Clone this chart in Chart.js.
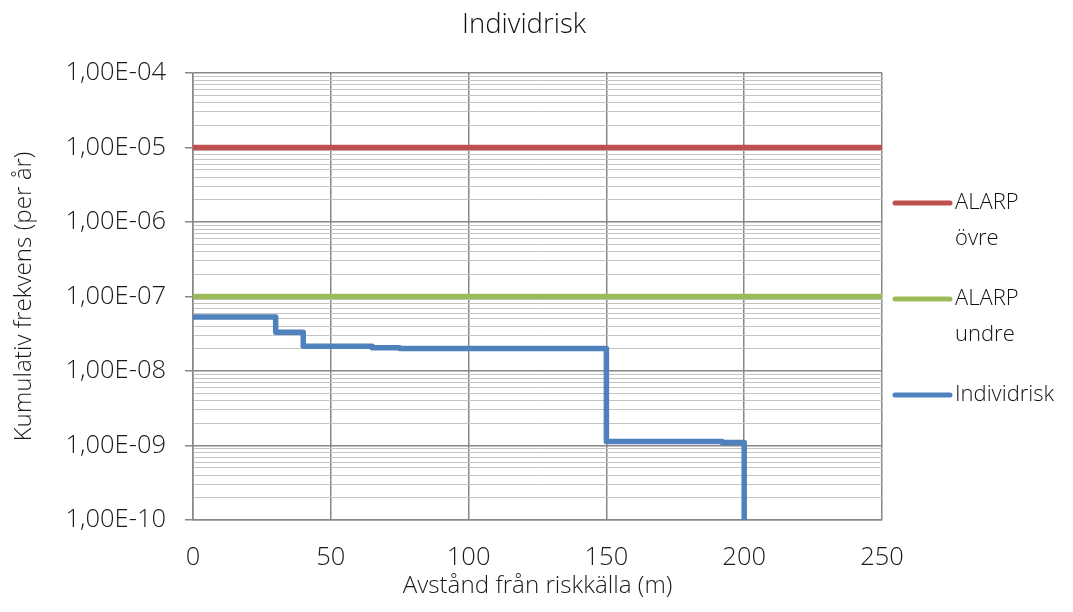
<!DOCTYPE html>
<html>
<head>
<meta charset="utf-8">
<script src="https://cdn.jsdelivr.net/npm/chart.js@4.4.0/dist/chart.umd.min.js"></script>
<style>
  html, body { margin: 0; padding: 0; background: #ffffff; }
  #wrap { width: 1073px; height: 612px; }
</style>
</head>
<body>
<div id="wrap"><canvas id="myChart"></canvas></div>
<script>
// Avstånd (m) och individrisk
const distance = [0, 30, 40, 65, 75, 150, 192, 200];
const individrisk = [5.3e-8, 3.3e-8, 2.15e-8, 2.05e-8, 2.0e-8, 1.13e-9, 1.1e-9, 1e-10];

// ALARP-gränser
const alarpX = [0, 250];
const alarpOvre = [1e-5, 1e-5];
const alarpUndre = [1e-7, 1e-7];

// Axlar
const xTicks = [0, 50, 100, 150, 200, 250];
const yMajorTicks = [1e-10, 1e-9, 1e-8, 1e-7, 1e-6, 1e-5, 1e-4];
const yTickLabels = ["1,00E-10", "1,00E-09", "1,00E-08", "1,00E-07", "1,00E-06", "1,00E-05", "1,00E-04"];
const yMinorSteps = [2, 3, 4, 5, 6, 7, 8, 9];

const FONT = "'Open Sans', sans-serif";
const WEIGHT = 300;
const majorGrid = "#878787";
const minorGrid = "#c3c3c3";

function points(xs, ys) {
  return xs.map((x, i) => ({ x: x, y: ys[i] }));
}

// Alla y-ticks: dekader plus 2..9 inom varje dekad
const yTicks = [];
yMajorTicks.forEach((v, i) => {
  yTicks.push({ value: v, major: true });
  if (i < yMajorTicks.length - 1) {
    yMinorSteps.forEach((m) => yTicks.push({ value: m * v, major: false }));
  }
});

// Rubrik och förklaring ritas för hand (flerradiga etiketter)
const legendItems = [
  { lines: ["ALARP", "övre"], color: "#c0504d", y: 203 },
  { lines: ["ALARP", "undre"], color: "#9bbb59", y: 299 },
  { lines: ["Individrisk"], color: "#4f81bd", y: 395 },
];

const decorPlugin = {
  id: "decor",
  afterDraw(chart) {
    const ctx = chart.ctx;
    const area = chart.chartArea;
    ctx.save();
    // titel
    ctx.fillStyle = "#111111";
    ctx.font = WEIGHT + " 27.5px " + FONT;
    ctx.textAlign = "center";
    ctx.textBaseline = "middle";
    ctx.fillText("Individrisk", 524, 25);
    // förklaring
    ctx.font = WEIGHT + " 22px " + FONT;
    ctx.textAlign = "left";
    legendItems.forEach((item) => {
      ctx.strokeStyle = item.color;
      ctx.lineWidth = 5;
      ctx.lineCap = "round";
      ctx.beginPath();
      ctx.moveTo(area.right + 13, item.y);
      ctx.lineTo(area.right + 68, item.y);
      ctx.stroke();
      item.lines.forEach((txt, k) => {
        ctx.fillText(txt, area.right + 73, item.y + k * 36);
      });
    });
    ctx.restore();
  },
};

const ctx = document.getElementById("myChart").getContext("2d");
const myChart = new Chart(ctx, {
  type: "line",
  data: {
    datasets: [
      {
        label: "ALARP övre",
        data: points(alarpX, alarpOvre),
        borderColor: "#c0504d",
        borderWidth: 5.5,
        pointRadius: 0,
      },
      {
        label: "ALARP undre",
        data: points(alarpX, alarpUndre),
        borderColor: "#9bbb59",
        borderWidth: 5.5,
        pointRadius: 0,
      },
      {
        label: "Individrisk",
        data: points(distance, individrisk),
        borderColor: "#4f81bd",
        borderWidth: 5.5,
        borderJoinStyle: "round",
        pointRadius: 0,
        stepped: true,
      },
    ],
  },
  options: {
    responsive: true,
    maintainAspectRatio: false,
    animation: false,
    layout: { padding: { top: 73, right: 191, left: 0, bottom: 0 } },
    plugins: {
      legend: { display: false },
      title: { display: false },
      tooltip: { enabled: false },
    },
    scales: {
      x: {
        type: "linear",
        min: 0,
        max: 250,
        afterBuildTicks: (scale) => {
          scale.ticks = xTicks.map((v) => ({ value: v }));
        },
        afterFit: (scale) => {
          scale.height = 92;
        },
        grid: { color: majorGrid, lineWidth: 1.5, drawTicks: false },
        border: { color: majorGrid, width: 1.5 },
        ticks: {
          color: "#1a1a1a",
          padding: 22,
          maxRotation: 0,
          font: { family: FONT, size: 25.5, weight: WEIGHT },
        },
        title: {
          display: true,
          text: "Avstånd från riskkälla (m)",
          color: "#1a1a1a",
          font: { family: FONT, size: 24.2, weight: WEIGHT },
          padding: { top: 0, bottom: 11 },
        },
      },
      y: {
        type: "logarithmic",
        min: 1e-10,
        max: 1e-4,
        afterBuildTicks: (scale) => {
          scale.ticks = yTicks.map((t) => ({ value: t.value, major: t.major }));
        },
        afterFit: (scale) => {
          scale.width = 193;
        },
        grid: {
          color: (c) => (c.tick && c.tick.major ? majorGrid : minorGrid),
          lineWidth: (c) => (c.tick && c.tick.major ? 1.5 : 1),
          tickColor: (c) => (c.tick && c.tick.major ? majorGrid : "rgba(0,0,0,0)"),
          tickLength: 8,
        },
        border: { color: majorGrid, width: 1.5 },
        ticks: {
          color: "#1a1a1a",
          padding: 19,
          autoSkip: false,
          font: { family: FONT, size: 25.5, weight: WEIGHT },
          callback: (value) => {
            const i = yMajorTicks.findIndex((v) => Math.abs(v - value) / v < 1e-6);
            return i >= 0 ? yTickLabels[i] : "";
          },
        },
        title: {
          display: true,
          text: "Kumulativ frekvens (per år)",
          color: "#1a1a1a",
          font: { family: FONT, size: 24.2, weight: WEIGHT },
          padding: { top: 10, bottom: 0 },
        },
      },
    },
  },
  plugins: [decorPlugin],
});
</script>
</body>
</html>
